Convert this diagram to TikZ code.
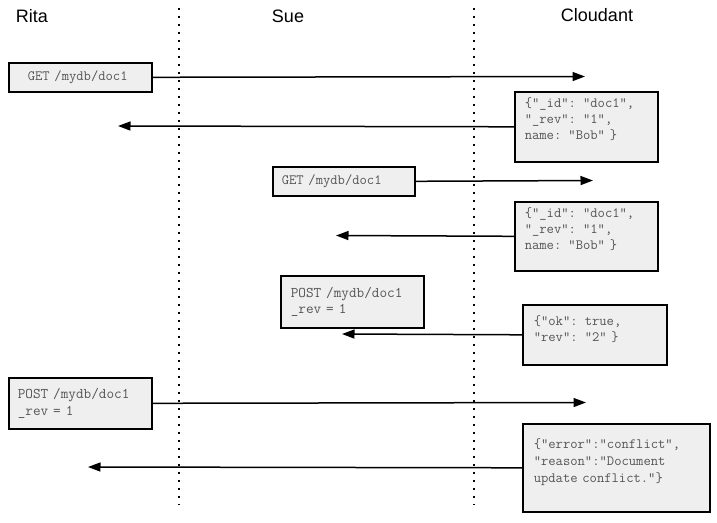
\documentclass[tikz,border=0pt]{standalone}
\usepackage{fontspec}
\setmainfont{Liberation Sans}
\usepackage{xcolor}
\definecolor{boxfill}{HTML}{EFEFEF}
\definecolor{msgtext}{HTML}{555555}
\usepackage{tikz}
\usetikzlibrary{arrows.meta}
\tikzset{
actor/.style={font=\fontsize{18}{20}\selectfont},
lifeline/.style={line width=1.8pt,dash pattern=on 1.8pt off 6.2pt},
msg/.style={draw=black,line width=1.6pt,fill=boxfill,text=msgtext,anchor=north west,align=left,font=\ttfamily\fontsize{14.2}{16.3}\selectfont},
postfont/.style={font=\ttfamily\fontsize{14.8}{16.5}\selectfont},
topmsg/.style 2 args={inner ysep=6pt,text height=#1,text depth=#2},
call/.style={line width=1.5pt,-{Triangle[length=12.5pt,width=9pt]}}
}

\begin{document}
\begin{tikzpicture}[x=1pt,y=-1pt]
\useasboundingbox (0,0) rectangle (717,522);
\node[actor] (rita) at (32,16) {Rita};
\node[actor] (sue) at (288,16) {Sue};
\node[actor] (cloudant) at (597,15) {Cloudant};
\draw[lifeline] (179,8) -- (179,505);
\draw[lifeline] (474,8) -- (474,505);
\node[msg,text width=105pt,inner xsep=19pt,inner ysep=0pt,minimum height=29pt] (getrita) at (8,62) {GET /mydb/doc1};
\node[msg,topmsg={9.3pt}{48.7pt},text width=123pt,inner xsep=10pt] (docrita) at (514,91) {\{“\_id”: “doc1”,\\“\_rev”: “1”,\\name: “Bob” \}};
\node[msg,text width=124pt,inner xsep=9pt,inner ysep=0pt,minimum height=29pt] (getsue) at (272,166) {GET /mydb/doc1};
\node[msg,topmsg={9.3pt}{47.7pt},text width=123pt,inner xsep=10pt] (docsue) at (514,201) {\{“\_id”: “doc1”,\\“\_rev”: “1”,\\name: “Bob” \}};
\node[msg,postfont,text width=123pt,inner xsep=10pt,inner ysep=0pt,minimum height=52pt] (postsue) at (280,275) {POST /mydb/doc1\\\_rev = 1};
\node[msg,topmsg={14.3pt}{33.7pt},text width=122pt,inner xsep=11pt] (oksue) at (522,304) {\{“ok”: true,\\“rev”: “2” \}};
\node[msg,postfont,text width=125pt,inner xsep=9pt,inner ysep=0pt,minimum height=51pt] (postrita) at (8,377) {POST /mydb/doc1\\\_rev = 1};
\node[msg,topmsg={18.3pt}{57.7pt},text width=165pt,inner xsep=11pt,font=\ttfamily\fontsize{14.2}{17}\selectfont] (errrita) at (522,423) {\{"error":"conflict",\\"reason":"Document\\update conflict."\}};
\coordinate (cl1) at (585,76.5);
\coordinate (ri1) at (118,126);
\coordinate (cl2) at (593,180.5);
\coordinate (su1) at (336,235.5);
\coordinate (su2) at (342,334);
\coordinate (cl3) at (586,402.5);
\coordinate (ri2) at (88,467);
\draw[call] (getrita.east) -- (cl1);
\draw[call] (docrita.west) -- (ri1);
\draw[call] (getsue.east) -- (cl2);
\draw[call] (docsue.west) -- (su1);
\draw[call] (oksue.west) -- (su2);
\draw[call] (postrita.east) -- (cl3);
\draw[call] (errrita.west) -- (ri2);
\end{tikzpicture}
\end{document}
